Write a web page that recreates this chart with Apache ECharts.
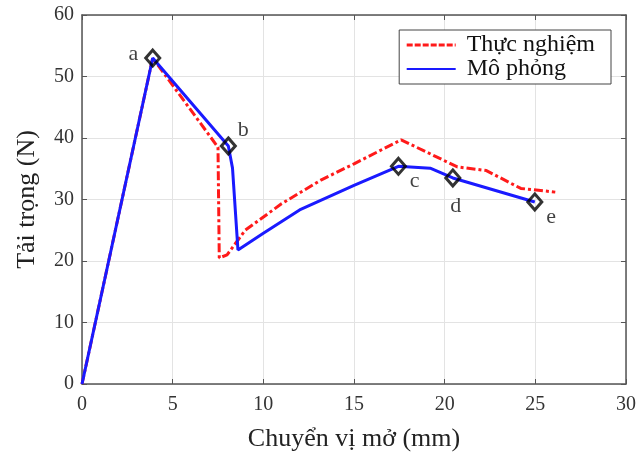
<!DOCTYPE html>
<html><head><meta charset="utf-8">
<script src="https://cdn.jsdelivr.net/npm/echarts@6/dist/echarts.min.js"></script>
<style>html,body{margin:0;padding:0;background:#fff}#c{width:639px;height:455px}</style>
</head><body><div id="c"></div>
<script>
var expX = [0, 3.9, 7.5, 7.57, 8.0, 8.4, 9.0, 11.0, 13.2, 15.0, 17.6, 20.7, 22.3, 24.2, 26.1];
var expY = [0, 53.0, 38.5, 20.5, 21.0, 22.6, 25.0, 29.3, 33.2, 35.8, 39.7, 35.3, 34.7, 31.8, 31.2];
var simX = [0, 3.9, 8.07, 8.3, 8.6, 10.0, 12.0, 15.0, 17.45, 19.2, 20.45, 24.97];
var simY = [0, 53.0, 38.7, 35.1, 21.8, 24.5, 28.3, 32.3, 35.4, 35.1, 33.5, 29.6];
var markX = [3.9, 8.07, 17.45, 20.45, 24.97];
var markY = [53.0, 38.7, 35.4, 33.5, 29.6];
var markLabels = ['a', 'b', 'c', 'd', 'e'];
var seriesNames = ['Thực nghiệm', 'Mô phỏng'];
var xTicks = [0, 5, 10, 15, 20, 25, 30];
var yTicks = [0, 10, 20, 30, 40, 50, 60];

function zip(a, b) { return a.map(function (v, i) { return [v, b[i]]; }); }
var labelPos = [
  {position: 'left', distance: 6, offset: [0, -4]},
  {position: 'right', distance: 1, offset: [0, -16]},
  {position: 'right', distance: 3, offset: [0, 15]},
  {position: 'bottom', distance: 6, offset: [3, 2]},
  {position: 'right', distance: 3, offset: [0, 15]}
];
var markData = markX.map(function (x, i) {
  return {value: [x, markY[i]], label: Object.assign({show: true, formatter: markLabels[i]}, labelPos[i])};
});
var font = 'Liberation Serif';
var chart = echarts.init(document.getElementById('c'));
var axCommon = {
  type: 'value', min: 0,
  axisLine: {show: true, onZero: false, lineStyle: {color: '#555', width: 1.5}},
  axisTick: {show: true, inside: true, length: 5, lineStyle: {color: '#555'}},
  splitLine: {show: false}
};
chart.setOption({
  animation: false,
  backgroundColor: '#fff',
  grid: {left: 82, right: 13, top: 15, bottom: 71, containLabel: false, outerBoundsMode: 'none'},
  legend: {
    right: 28, top: 30, orient: 'vertical', itemGap: 0,
    backgroundColor: '#fff', borderColor: '#444', borderWidth: 1,
    padding: [3, 16, 3, 6], itemWidth: 49, itemHeight: 10,
    itemStyle: {color: 'rgba(0,0,0,0)', borderWidth: 0, opacity: 0},
    textStyle: {fontFamily: font, fontSize: 24, color: '#111', padding: [0, 0, 0, 6], lineHeight: 24},
    data: [
      {name: seriesNames[0], lineStyle: {type: [6, 2], width: 3}},
      {name: seriesNames[1]}
    ]
  },
  xAxis: [
    Object.assign({}, axCommon, {
      max: 30, interval: 5, position: 'bottom',
      name: 'Chuyển vị mở (mm)', nameLocation: 'middle', nameGap: 42,
      nameTextStyle: {fontFamily: font, fontSize: 26, color: '#222'},
      axisLabel: {fontFamily: font, fontSize: 20, color: '#333', margin: 11},
      splitLine: {show: true, lineStyle: {color: '#e3e3e3', width: 1}}
    }),
    Object.assign({}, axCommon, {max: 30, interval: 5, position: 'top', axisLabel: {show: false}})
  ],
  yAxis: [
    Object.assign({}, axCommon, {
      max: 60, interval: 10, position: 'left',
      name: 'Tải trọng (N)', nameLocation: 'middle', nameGap: 42,
      nameTextStyle: {fontFamily: font, fontSize: 26, color: '#222'},
      axisLabel: {fontFamily: font, fontSize: 20, color: '#333', margin: 8},
      splitLine: {show: true, lineStyle: {color: '#e3e3e3', width: 1}}
    }),
    Object.assign({}, axCommon, {max: 60, interval: 10, position: 'right', axisLabel: {show: false}})
  ],
  series: [
    {
      name: seriesNames[0], type: 'line', data: zip(expX, expY), showSymbol: false, symbol: 'none',
      itemStyle: {color: '#ff1a1a'},
      lineStyle: {color: '#ff1a1a', width: 3, type: [9, 3, 3, 3]}
    },
    {
      name: seriesNames[1], type: 'line', data: zip(simX, simY), showSymbol: false, symbol: 'none',
      itemStyle: {color: '#1a1aff'},
      lineStyle: {color: '#1a1aff', width: 3}
    },
    {
      name: 'marks', type: 'scatter', data: markData, symbol: 'diamond', symbolSize: [14, 16],
      itemStyle: {color: 'rgba(0,0,0,0)', borderColor: '#000', borderWidth: 3},
      label: {fontFamily: font, fontSize: 22, color: '#111'},
      z: 5
    }
  ]
});
</script></body></html>
